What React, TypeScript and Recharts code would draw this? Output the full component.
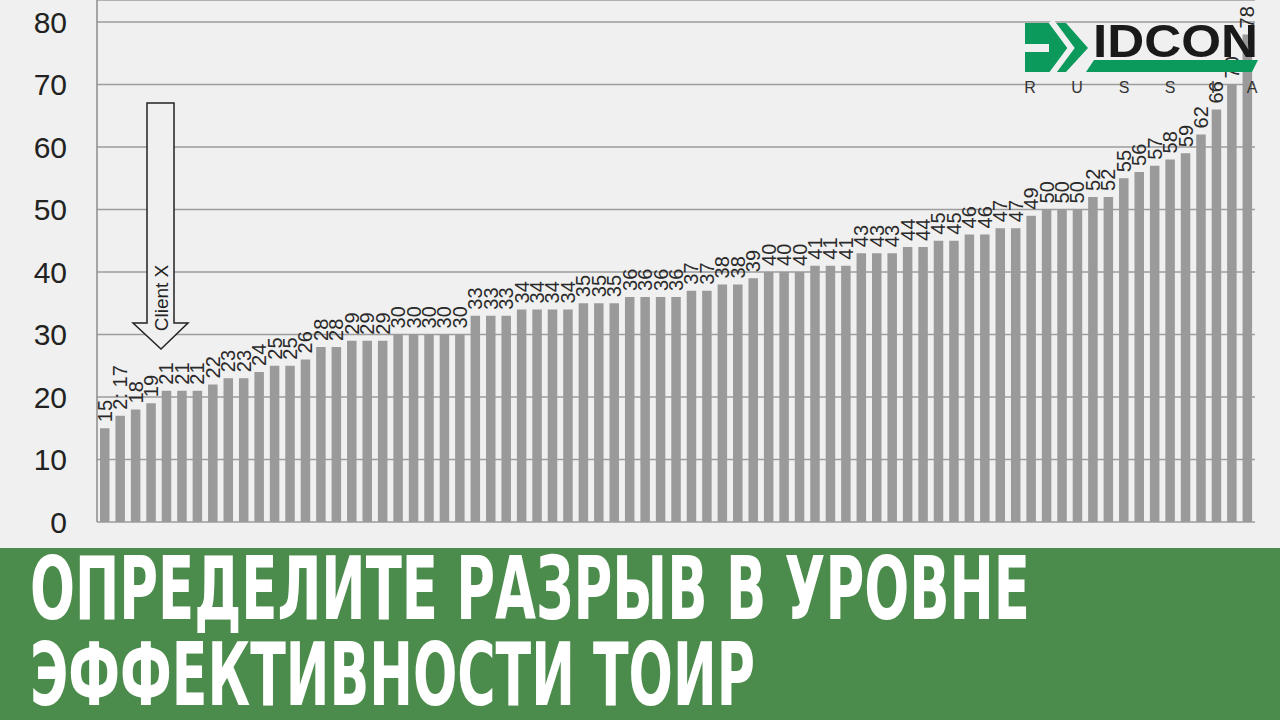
import React, { useLayoutEffect, useRef, useState } from 'react';
import { Bar, BarChart, CartesianGrid, LabelList, XAxis, YAxis } from 'recharts';

// maintenance performance score per surveyed site, sorted ascending
const SCORES = [
  15, 17, 18, 19, 21, 21, 21, 22, 23, 23, 24, 25, 25, 26, 28, 28, 29, 29, 29, 30,
  30, 30, 30, 30, 33, 33, 33, 34, 34, 34, 34, 35, 35, 35, 36, 36, 36, 36, 37, 37,
  38, 38, 39, 40, 40, 40, 41, 41, 41, 43, 43, 43, 44, 44, 45, 45, 46, 46, 47, 47,
  49, 50, 50, 50, 52, 52, 55, 56, 57, 58, 59, 62, 66, 70, 78,
];
// the original has a stray "2:" in front of the second label
const LABEL_OVERRIDES: Record<number, string> = { 1: '2: 17' };
const Y_TICKS = [0, 10, 20, 30, 40, 50, 60, 70, 80];
const TITLE_LINES = ['ОПРЕДЕЛИТЕ РАЗРЫВ В УРОВНЕ', 'ЭФФЕКТИВНОСТИ ТОИР'];
const TITLE_WIDTHS = [1000, 725];
const RUSSIA = ['R', 'U', 'S', 'S', 'I', 'A'];

const rows = SCORES.map((score, i) => ({
  site: `site${i + 1}`,
  score,
  label: LABEL_OVERRIDES[i] ?? String(score),
}));

const FONT = '"Liberation Sans", Arial, sans-serif';
const BG = '#f0f0f0';
const GRID = '#9d9d9d';

function BarLabel(props: any) {
  const { x, y, width, index } = props;
  const cx = Number(x) + Number(width) / 2;
  const top = Number(y) - 6;
  return (
    <text
      x={cx}
      y={top}
      transform={`rotate(-90 ${cx} ${top})`}
      textAnchor="start"
      dominantBaseline="central"
      fontSize={20}
      fontFamily={FONT}
      fill="#2a2a2a"
    >
      {rows[index]?.label}
    </text>
  );
}

function Overlay() {
  const letterX = [1030, 1077, 1124, 1170, 1213, 1252];
  return (
    <svg
      width={1280}
      height={548}
      style={{ position: 'absolute', left: 0, top: 0, pointerEvents: 'none' }}
    >
      {/* Client X arrow */}
      <path
        d="M147,103 L174,103 L174,323 L188,323 L161,349 L133,323 L147,323 Z"
        fill={BG}
        stroke="#222"
        strokeWidth={1.5}
      />
      <text
        x={161}
        y={298}
        transform="rotate(-90 161 298)"
        textAnchor="middle"
        dominantBaseline="central"
        fontSize={19}
        fontFamily={FONT}
        fill="#222"
      >
        Client X
      </text>

      {/* IDCON logo */}
      <polygon points="1025,23 1066,23 1088,48 1066,72 1025,72" fill="#0b9a5c" />
      <rect x={1025} y={44} width={24} height={8} fill={BG} />
      <polyline points="1051,21 1071,48 1051,75" fill="none" stroke={BG} strokeWidth={6} />
      <text
        x={1093}
        y={57}
        fontSize={47}
        fontWeight={900}
        fontFamily={FONT}
        fill="#1a1a1a"
        textLength={165}
        lengthAdjust="spacingAndGlyphs"
      >
        IDCON
      </text>
      <polygon points="1094,60 1258,60 1252,72 1086,72" fill="#0b9a5c" />
      {RUSSIA.map((ch, i) => (
        <text
          key={i}
          x={letterX[i]}
          y={93}
          textAnchor="middle"
          fontSize={16}
          fontFamily={FONT}
          fill="#333"
        >
          {ch}
        </text>
      ))}
    </svg>
  );
}

function Title() {
  const refs = useRef<(SVGTextElement | null)[]>([]);
  const [scales, setScales] = useState<number[]>([0.62, 0.62]);

  useLayoutEffect(() => {
    const next = refs.current.map((el, i) => {
      if (!el) return 0.62;
      const w = el.getBBox().width;
      return w > 0 ? TITLE_WIDTHS[i] / w : 0.62;
    });
    setScales(next);
  }, []);

  return (
    <svg width={1280} height={172}>
      {TITLE_LINES.map((line, i) => {
        const baseline = i === 0 ? 71 : 157;
        return (
          <g key={i} transform={`translate(30 ${baseline}) scale(${scales[i]} 1)`}>
            <text
              ref={(el) => {
                refs.current[i] = el;
              }}
              x={0}
              y={0}
              fontSize={88}
              fontWeight={700}
              fontFamily='"DejaVu Sans Condensed", "DejaVu Sans", sans-serif'
              fill="#ffffff"
            >
              {line}
            </text>
          </g>
        );
      })}
    </svg>
  );
}

export default function App() {
  return (
    <div
      style={{
        position: 'absolute',
        left: 0,
        top: 0,
        width: 1280,
        height: 720,
        background: BG,
        overflow: 'hidden',
      }}
    >
      <BarChart
        width={1280}
        height={548}
        data={rows}
        margin={{ top: 0, right: 25, bottom: 26, left: 0 }}
        barSize={9.5}
        accessibilityLayer={false}
      >
        <CartesianGrid vertical={false} stroke={GRID} strokeWidth={1.5} />
        <XAxis
          dataKey="site"
          tick={false}
          tickLine={false}
          height={0}
          axisLine={{ stroke: '#8c8c8c', strokeWidth: 1.5 }}
        />
        <YAxis
          domain={[0, 83.5]}
          ticks={Y_TICKS}
          allowDataOverflow
          width={97}
          tickSize={0}
          tickMargin={30}
          axisLine={{ stroke: '#8c8c8c', strokeWidth: 1.5 }}
          tick={{ fontSize: 30, fill: '#222', fontFamily: FONT }}
        />
        <YAxis
          yAxisId="frame"
          orientation="right"
          width={0}
          tick={false}
          tickLine={false}
          axisLine={{ stroke: '#8c8c8c', strokeWidth: 1.5 }}
        />
        <Bar dataKey="score" fill="#9a9a9a" isAnimationActive={false}>
          <LabelList dataKey="label" content={<BarLabel />} />
        </Bar>
      </BarChart>

      <Overlay />

      <div
        style={{
          position: 'absolute',
          left: 0,
          top: 548,
          width: 1280,
          height: 172,
          background: '#4b8c4c',
        }}
      >
        <Title />
      </div>
    </div>
  );
}
